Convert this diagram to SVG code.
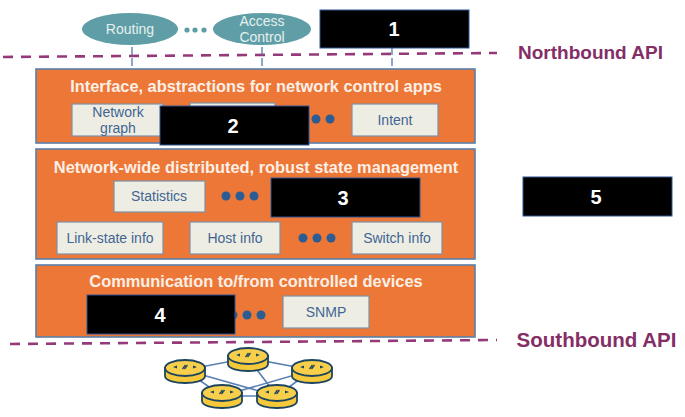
<svg xmlns="http://www.w3.org/2000/svg" width="685" height="417" viewBox="0 0 685 417">
<style>
text{font-family:"Liberation Sans",Arial,sans-serif}
.layer{fill:#ED7737;stroke:#5B7FA8;stroke-width:1.6}
.box{fill:#EEEDE3;stroke:#7F90A3;stroke-width:1.2}
.lbl{font-size:14px;fill:#3F6593;text-anchor:middle}
.head{font-size:16.4px;font-weight:bold;fill:#FBEFE6;text-anchor:middle}
.ell{fill:#5F9EA6}
.elbl{font-size:14px;fill:#E6F0F0;text-anchor:middle}
.api{font-weight:bold;fill:#842E66;text-anchor:middle}
.dash{stroke:#96397A;stroke-width:2.6;stroke-dasharray:10 8;fill:none}
.vert{stroke:#4F7AA6;stroke-width:1.3;stroke-dasharray:8 3;fill:none}
.mask{fill:#000;stroke:#2F5597;stroke-width:1}
.num{font-size:20px;font-weight:bold;fill:#fff;text-anchor:middle}
.dot{fill:#2B5C94}
.dotl{fill:#5F9EA6}
.link{stroke:#5B82B3;stroke-width:1.6;fill:none}
.rb{fill:#F5C93A;stroke:#1D4560;stroke-width:1.8}
.rt{fill:#F7CF4A;stroke:#1D4560;stroke-width:1.8}
.rm{fill:#1D4560}
</style>
<defs>
<g id="router">
<path class="rb" d="M-20-3V5C-20 10-9 12 0 12S20 10 20 5V-3Z"/>
<ellipse class="rt" cx="0" cy="-3" rx="20" ry="8"/>
<path class="rm" d="M-12-4l4-1.500v3ZM12-4l-4-1.500v3ZM-3-2.500l3-4 1 1-3 4ZM3-5.500l-3 4-1-1 3-4Z"/>
</g>
</defs>

<g id="connectors">
<path class="dash" d="M3 57L497 53"/>
<path class="dash" d="M10 344L497 340"/>
<path class="vert" d="M132 47V67M262 47V67M392 47V67"/>
<g id="router-links">
<path class="link" d="M185 370L248 358M248 358L312 370M185 370L222 396M185 370L277 396M248 358L277 396M312 370L222 396M312 370L277 396M222 396L277 396"/>
</g>
</g>

<g id="layer-interface">
<rect class="layer" x="36" y="69" width="439" height="74"/>
<text class="head" x="256" y="92">Interface, abstractions for network control apps</text>
</g>
<g id="layer-state">
<rect class="layer" x="36" y="149" width="439" height="110"/>
<text class="head" x="256" y="173">Network-wide distributed, robust state management</text>
</g>
<g id="layer-comm">
<rect class="layer" x="36" y="265" width="439" height="72"/>
<text class="head" x="256" y="287">Communication to/from controlled devices</text>
</g>

<g id="app-routing"><ellipse class="ell" cx="130" cy="29" rx="48" ry="16"/><text class="elbl" x="130" y="34">Routing</text></g>
<g id="app-dots"><circle class="dotl" cx="187" cy="30" r="2.600"/><circle class="dotl" cx="195" cy="30" r="2.600"/><circle class="dotl" cx="204" cy="30" r="2.600"/></g>
<g id="app-access"><ellipse class="ell" cx="262" cy="29" rx="49" ry="16"/><text class="elbl" x="262" y="26">Access</text><text class="elbl" x="262" y="42">Control</text></g>
<g id="mask-1"><rect class="mask" x="320" y="10" width="149" height="38"/><text class="num" x="394" y="36">1</text></g>

<g id="box-network-graph"><rect class="box" x="72" y="104" width="91" height="32"/><text class="lbl" x="118" y="117">Network</text><text class="lbl" x="118" y="133">graph</text></g>
<g id="box-hidden"><rect class="box" x="190" y="103" width="85" height="20"/></g>
<g id="mask-2"><rect class="mask" x="160" y="106" width="149" height="39"/><text class="num" x="233" y="133">2</text></g>
<g id="dots-1"><circle class="dot" cx="316" cy="119" r="4.500"/><circle class="dot" cx="330" cy="119" r="4.500"/></g>
<g id="box-intent"><rect class="box" x="352" y="104" width="86" height="32"/><text class="lbl" x="395" y="125">Intent</text></g>

<g id="box-statistics"><rect class="box" x="114" y="181" width="91" height="31"/><text class="lbl" x="159" y="201">Statistics</text></g>
<g id="dots-2"><circle class="dot" cx="226" cy="196" r="4.500"/><circle class="dot" cx="240" cy="196" r="4.500"/><circle class="dot" cx="254" cy="196" r="4.500"/></g>
<g id="mask-3"><rect class="mask" x="271" y="178" width="149" height="39"/><text class="num" x="343" y="205">3</text></g>
<g id="box-link-state"><rect class="box" x="57" y="222" width="106" height="32"/><text class="lbl" x="110" y="243">Link-state info</text></g>
<g id="box-host"><rect class="box" x="190" y="222" width="90" height="32"/><text class="lbl" x="235" y="243">Host info</text></g>
<g id="dots-3"><circle class="dot" cx="303" cy="238" r="4.500"/><circle class="dot" cx="317" cy="238" r="4.500"/><circle class="dot" cx="331" cy="238" r="4.500"/></g>
<g id="box-switch"><rect class="box" x="352" y="222" width="90" height="32"/><text class="lbl" x="397" y="243">Switch info</text></g>

<g id="dots-4"><circle class="dot" cx="233" cy="315" r="4.500"/><circle class="dot" cx="247" cy="315" r="4.500"/><circle class="dot" cx="261" cy="315" r="4.500"/></g>
<g id="mask-4"><rect class="mask" x="87" y="295" width="148" height="39"/><text class="num" x="160" y="322">4</text></g>
<g id="box-snmp"><rect class="box" x="283" y="296" width="86" height="32"/><text class="lbl" x="326" y="317">SNMP</text></g>

<g id="mask-5"><rect class="mask" x="523" y="177" width="149" height="39"/><text class="num" x="596" y="204">5</text></g>
<g id="label-northbound"><text class="api" font-size="19" x="590.500" y="59">Northbound API</text></g>
<g id="label-southbound"><text class="api" font-size="20.500" x="596.500" y="347">Southbound API</text></g>

<g id="router-1"><use href="#router" x="248" y="359"/></g>
<g id="router-2"><use href="#router" x="185" y="371"/></g>
<g id="router-3"><use href="#router" x="312" y="371"/></g>
<g id="router-4"><use href="#router" x="222" y="396"/></g>
<g id="router-5"><use href="#router" x="277" y="396"/></g>
</svg>
